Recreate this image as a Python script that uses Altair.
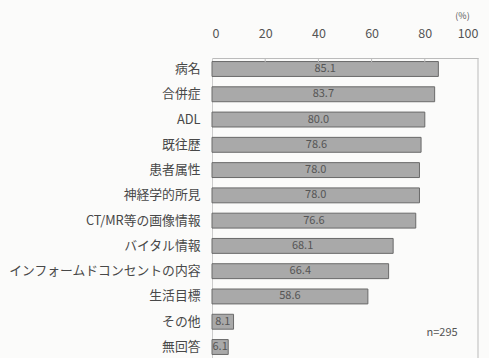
import altair as alt
import pandas as pd

categories = ["病名", "合併症", "ADL", "既往歴", "患者属性", "神経学的所見",
              "CT/MR等の画像情報", "バイタル情報", "インフォームドコンセントの内容",
              "生活目標", "その他", "無回答"]
values = [85.1, 83.7, 80.0, 78.6, 78.0, 78.0, 76.6, 68.1, 66.4, 58.6, 8.1, 6.1]
x_ticks = [0, 20, 40, 60, 80, 100]
note = "n=295"

df = pd.DataFrame({"item": categories, "value": values,
                   "label": [f"{v:.1f}" for v in values]})

FONT = "Noto Sans CJK JP"

x_scale = alt.Scale(domain=[0, 100], nice=False, zero=True)
y_scale = alt.Scale(domain=categories, paddingInner=0.41, paddingOuter=0.14)

base = alt.Chart(df)

bars = base.mark_bar(color="#a9a9a9", stroke="#6a6a6a", strokeWidth=1).encode(
    x=alt.X("value:Q", scale=x_scale,
            axis=alt.Axis(orient="top", values=x_ticks, ticks=False, grid=False,
                          domain=True, domainColor="#bbbbbb", labelPadding=18,
                          labelFontSize=12.5, labelColor="#555555", labelFont=FONT,
                          title="(%)", titleX=250, titleY=-43, titleAlign="center",
                          titleBaseline="middle", titleFontSize=9,
                          titleFontWeight="normal", titleColor="#555555",
                          titleFont=FONT)),
    y=alt.Y("item:N", scale=y_scale, sort=categories,
            axis=alt.Axis(title=None, ticks=False, domain=True,
                          domainColor="#cccccc", labelPadding=12,
                          labelFontSize=12.8, labelColor="#484848",
                          labelFont=FONT, labelLimit=300)),
)

texts = base.mark_text(fontSize=11, color="#555555", font=FONT,
                       baseline="middle", align="center").encode(
    x=alt.X("mid:Q", scale=x_scale),
    y=alt.Y("item:N", scale=y_scale, sort=categories),
    text="label:N",
).transform_calculate(mid="datum.value / 2")

right_line = alt.Chart(pd.DataFrame({"x": [100]})).mark_rule(
    color="#bbbbbb", strokeWidth=1).encode(x=alt.X("x:Q", scale=x_scale))

tick_marks = alt.Chart(pd.DataFrame({"x": x_ticks[1:-1]})).mark_rule(
    color="#bbbbbb", strokeWidth=1).encode(
    x=alt.X("x:Q", scale=x_scale), y=alt.value(0), y2=alt.value(4))

note_text = alt.Chart(pd.DataFrame({"t": [note], "x": [86.5]})).mark_text(
    fontSize=11, color="#555555", font=FONT, align="center",
    baseline="middle").encode(x=alt.X("x:Q", scale=x_scale),
                              y=alt.value(275), text="t:N")

chart = alt.layer(bars, texts, right_line, tick_marks, note_text).properties(
    width=266, height=300,
    autosize=alt.AutoSizeParams(type="none"),
    padding={"left": 212, "top": 58, "right": 11, "bottom": 0},
    background="#fbfbfa",
).configure_view(stroke=None)

chart.save("out.html", embed_options={"renderer": "svg", "actions": False})
